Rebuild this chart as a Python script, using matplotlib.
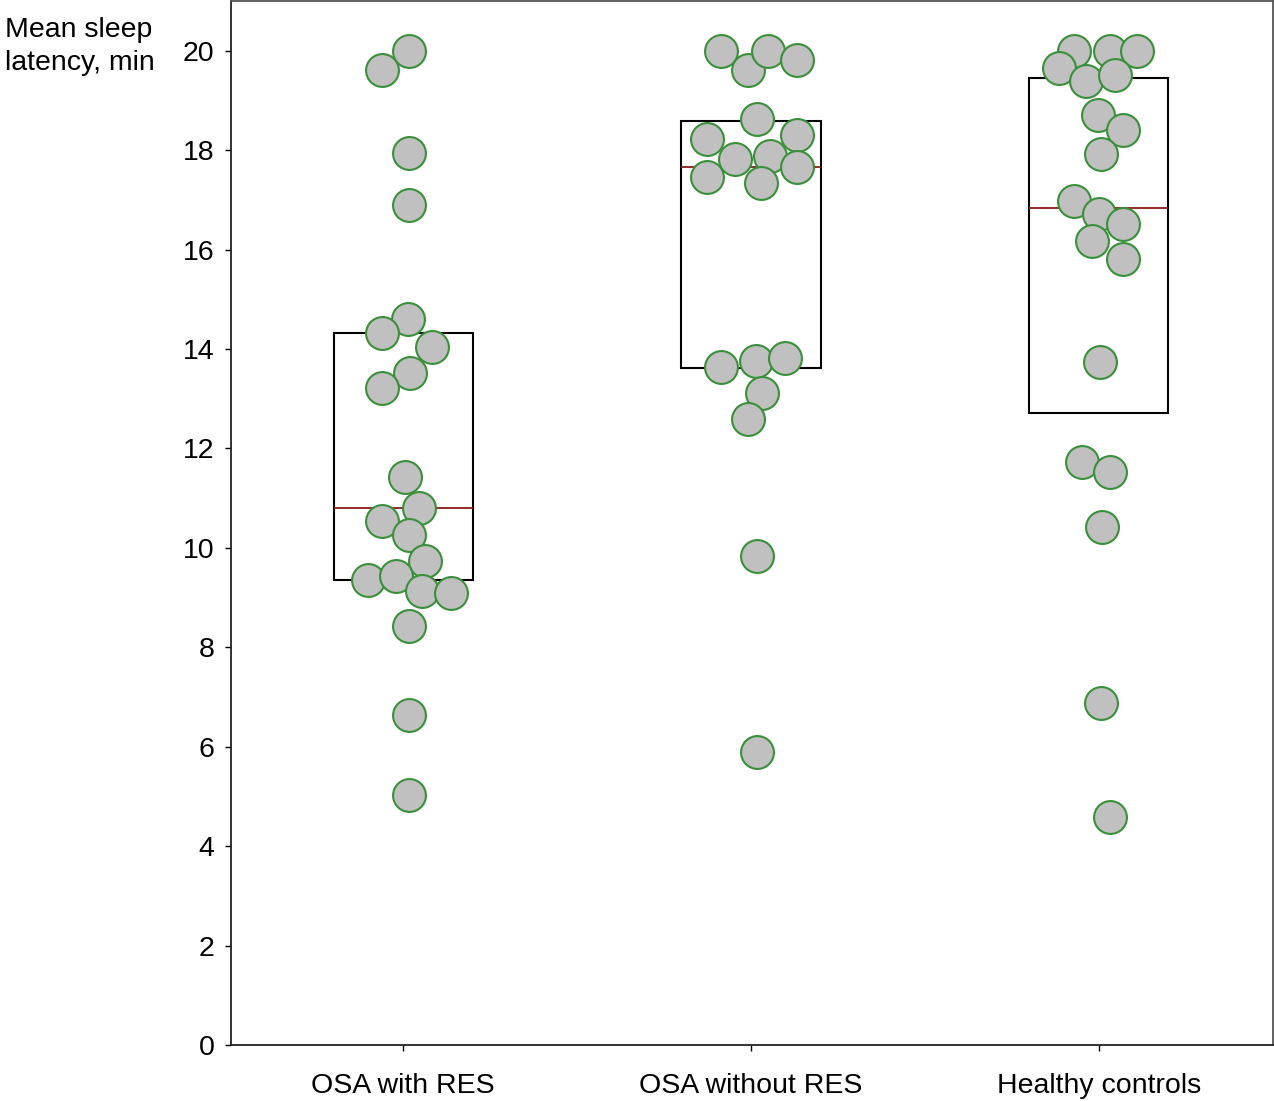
import matplotlib
matplotlib.use("Agg")
import matplotlib.pyplot as plt
import numpy as np

plt.rcParams['font.family'] = ['Liberation Sans', 'DejaVu Sans']

categories = ["OSA with RES", "OSA without RES", "Healthy controls"]

# quartile boxes (no whiskers) and medians
q1 = [9.35, 13.61, 12.72]
q3 = [14.33, 18.59, 19.46]
medians = [10.81, 17.67, 16.84]

# individual values and their horizontal swarm offsets (category units)
vals_res = [20.0, 19.62, 17.95, 16.90, 14.61, 14.33, 14.05, 13.51, 13.21, 11.42,
            10.81, 10.55, 10.25, 9.73, 9.35, 9.43, 9.13, 9.09, 8.42, 6.63, 5.03]
offs_res = [0.017, -0.060, 0.017, 0.017, 0.014, -0.060, 0.083, 0.020, -0.060, 0.006,
            0.046, -0.060, 0.017, 0.063, -0.100, -0.020, 0.055, 0.138, 0.017, 0.017, 0.017]

vals_nores = [20.0, 19.62, 20.0, 19.82, 18.63, 18.23, 18.31, 17.83, 17.89, 17.67,
              17.47, 17.35, 13.63, 13.75, 13.83, 13.11, 12.60, 9.83, 5.89]
offs_nores = [-0.086, -0.009, 0.049, 0.132, 0.017, -0.126, 0.132, -0.046, 0.055, 0.132,
              -0.126, 0.029, -0.086, 0.014, 0.098, 0.032, -0.009, 0.017, 0.017]

vals_hc = [20.0, 19.66, 20.0, 20.0, 19.40, 19.52, 18.71, 18.41, 17.93, 16.98,
           16.72, 16.52, 16.18, 15.82, 13.73, 11.72, 11.52, 10.43, 6.87, 4.58]
offs_hc = [-0.072, -0.115, 0.032, 0.109, -0.037, 0.046, -0.003, 0.069, 0.006, -0.072,
           0.000, 0.069, -0.020, 0.069, 0.003, -0.049, 0.032, 0.009, 0.006, 0.032]

values = [vals_res, vals_nores, vals_hc]
offsets = [offs_res, offs_nores, offs_hc]

yticks = [0, 2, 4, 6, 8, 10, 12, 14, 16, 18, 20]

fig = plt.figure(figsize=(12.74, 11.01), dpi=100)
ax = fig.add_axes([0.1813, 0.0509, 0.8177, 0.9481])

xpos = np.arange(len(categories))
box_w = 0.40
ax.bar(xpos, np.array(q3) - np.array(q1), bottom=q1, width=box_w,
       facecolor='none', edgecolor='black', linewidth=1.5, zorder=2)
ax.hlines(medians, xpos - box_w / 2, xpos + box_w / 2, colors='#8b1a1a',
          linewidth=1.3, zorder=2)

for i, (v, o) in enumerate(zip(values, offsets)):
    ax.scatter(i + np.array(o), v, s=560, facecolor='#c0c0c0',
               edgecolor='#3a8f3a', linewidth=1.5, zorder=3)

ax.set_xlim(-0.495, 2.5)
ax.set_ylim(0, 21)
ax.set_yticks(yticks)
ax.set_yticklabels([str(t) for t in yticks])
ax.set_xticks(xpos)
ax.set_xticklabels(categories)
ax.tick_params(axis='y', direction='out', length=4, width=1, pad=8, labelsize=20.5)
ax.tick_params(axis='x', direction='out', length=4, width=1, pad=16, labelsize=20.5)
for side in ['left', 'bottom']:
    ax.spines[side].set_linewidth(1.3)
    ax.spines[side].set_color('#222222')
for side in ['top', 'right']:
    ax.spines[side].set_linewidth(1.3)
    ax.spines[side].set_color('#555555')

fig.text(0.004, 1 - 37 / 1101, "Mean sleep", ha='left', va='baseline', fontsize=20.5)
fig.text(0.004, 1 - 70 / 1101, "latency, min", ha='left', va='baseline', fontsize=20.5)

fig.savefig("out.png", dpi=100)
